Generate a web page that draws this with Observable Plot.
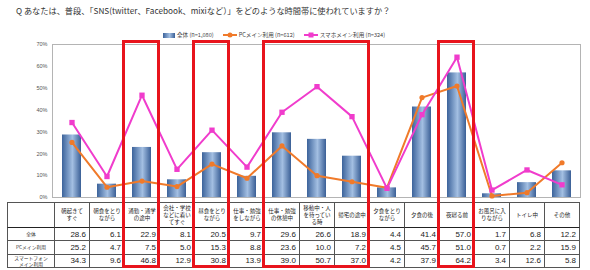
<!DOCTYPE html>
<html><head><meta charset="utf-8">
<script src="https://cdn.jsdelivr.net/npm/d3@7"></script>
<script src="https://cdn.jsdelivr.net/npm/@observablehq/plot@0.6"></script>
<style>
body{margin:0;background:#fff;}
#wrap{position:relative;width:590px;height:270px;overflow:hidden;background:#fff;font-family:"Noto Sans CJK JP","Noto Sans",sans-serif;}
#title{position:absolute;left:16px;top:4px;font-size:8.2px;color:#333;white-space:nowrap;}
#legend{position:absolute;left:163px;top:31px;font-size:5.6px;color:#444;display:flex;gap:9px;align-items:center;white-space:nowrap;}
#legend span.it{display:flex;align-items:center;gap:2px;}
#chart{position:absolute;left:0;top:40px;}
.cell{position:absolute;box-sizing:border-box;display:flex;align-items:center;}
.hdr{justify-content:center;text-align:center;font-size:5.5px;line-height:7px;color:#222;}
.num{justify-content:flex-end;padding-right:3px;font-family:"Liberation Sans",Arial,sans-serif;font-size:8px;color:#222;}
.lab{justify-content:center;text-align:center;font-size:4.8px;line-height:6px;color:#333;}
.hl{position:absolute;box-sizing:border-box;border:3px solid #e8141c;pointer-events:none;}
</style></head>
<body><div id="wrap">
<div id="title">Q あなたは、普段、「SNS(twitter、Facebook、mixiなど）」をどのような時間帯に使われていますか？</div>
<div id="legend"></div>
<div id="chart"></div>
</div>
<script>
const categories = ["朝起きてすぐ","朝食をとりながら","通勤・通学の途中","会社・学校などに着いてすぐ","昼食をとりながら","仕事・勉強をしながら","仕事・勉強の休憩中","移動中・人を待っている時","帰宅の途中","夕食をとりながら","夕食の後","夜寝る前","お風呂に入りながら","トイレ中","その他"];
const headerLabels = ["朝起きて<br>すぐ","朝食をとり<br>ながら","通勤・通学<br>の途中","会社・学校<br>などに着い<br>てすぐ","昼食をとり<br>ながら","仕事・勉強<br>をしながら","仕事・勉強<br>の休憩中","移動中・人<br>を待ってい<br>る時","帰宅の途中","夕食をとり<br>ながら","夕食の後","夜寝る前","お風呂に入<br>りながら","トイレ中","その他"];
const allValues = [28.6,6.1,22.9,8.1,20.5,9.7,29.6,26.6,18.9,4.4,41.4,57.0,1.7,6.8,12.2];
const pcValues  = [25.2,4.7,7.5,5.0,15.3,8.8,23.6,10.0,7.2,4.5,45.7,51.0,0.7,2.2,15.9];
const spValues  = [34.3,9.6,46.8,12.9,30.8,13.9,39.0,50.7,37.0,4.2,37.9,64.2,3.4,12.6,5.8];
const seriesNames = ["全体 (n=1,080)","PCメイン利用 (n=612)","スマホメイン利用 (n=324)"];
const rowLabels = ["全体","PCメイン利用","スマートフォン<br>メイン利用"];
const highlightGroups = [["通勤・通学の途中"],["昼食をとりながら"],["仕事・勉強の休憩中","移動中・人を待っている時","帰宅の途中"],["夜寝る前"]];

const ORANGE = "#f07a2a", MAG = "#f03ccc";
const rows = categories.map((c,i)=>({cat:c, all:allValues[i], pc:pcValues[i], sp:spValues[i]}));

const plot = Plot.plot({
  width: 590, height: 160,
  marginTop: 4, marginBottom: 3, marginLeft: 52, marginRight: 10,
  x: {domain: categories, paddingInner: 0.46, paddingOuter: 0.23, axis: null},
  y: {domain: [0,70], ticks: 7, tickFormat: d => d + "%", tickSize: 0, tickPadding: 5, label: null},
  style: {fontSize: "5.5px", color: "#555", fontFamily: "Liberation Sans, Arial, sans-serif", background: "transparent"},
  marks: [
    Plot.frame({stroke: "#b4b4b4"}),
    Plot.barY(rows, {x: "cat", y: "all", fill: "url(#barGrad)"}),
    Plot.line(rows, {x: "cat", y: "pc", stroke: ORANGE, strokeWidth: 2}),
    Plot.dot(rows, {x: "cat", y: "pc", fill: ORANGE, r: 2.6}),
    Plot.line(rows, {x: "cat", y: "sp", stroke: MAG, strokeWidth: 2}),
    Plot.dot(rows, {x: "cat", y: "sp", fill: MAG, symbol: "square", r: 3})
  ]
});
const defs = d3.select(plot).insert("defs", ":first-child");
const g = defs.append("linearGradient").attr("id","barGrad").attr("x1","0").attr("x2","1").attr("y1","0").attr("y2","0");
g.append("stop").attr("offset","0").attr("stop-color","#3c639b");
g.append("stop").attr("offset","0.55").attr("stop-color","#a3bfe2");
g.append("stop").attr("offset","1").attr("stop-color","#3a5f96");
document.getElementById("chart").appendChild(plot);

// legend
const lg = document.getElementById("legend");
lg.innerHTML =
 `<span class="it"><svg width="12" height="5"><defs><linearGradient id="lgG" x1="0" x2="1"><stop offset="0" stop-color="#3c639b"/><stop offset="0.55" stop-color="#a3bfe2"/><stop offset="1" stop-color="#3a5f96"/></linearGradient></defs><rect width="12" height="5" fill="url(#lgG)"/></svg>${seriesNames[0]}</span>` +
 `<span class="it"><svg width="14" height="6"><line x1="0" x2="14" y1="3" y2="3" stroke="${ORANGE}" stroke-width="2"/><circle cx="7" cy="3" r="2.5" fill="${ORANGE}"/></svg>${seriesNames[1]}</span>` +
 `<span class="it"><svg width="14" height="6"><line x1="0" x2="14" y1="3" y2="3" stroke="${MAG}" stroke-width="2"/><rect x="4.5" y="0.5" width="5" height="5" fill="${MAG}"/></svg>${seriesNames[2]}</span>`;

// table from the x scale
const xs = plot.scale("x");
const bw = xs.bandwidth;
const step = xs.step || (xs.range[1]-xs.range[0])/categories.length;
const colStart = c => xs.apply(c) - (step - bw)/2;
const wrap = document.getElementById("wrap");
const tableLeft = 7;
const rowTops = [202, 227, 240, 253.5, 267];
const firstX = colStart(categories[0]);
function addCell(cls, x, y, w, h, html, borders){
  const d = document.createElement("div");
  d.className = "cell " + cls;
  Object.assign(d.style, {left: x+"px", top: y+"px", width: w+"px", height: h+"px"});
  d.style.borderLeft = "1px solid #555";
  d.style.borderTop = borders.top || "1px solid #555";
  if (borders.right) d.style.borderRight = borders.right;
  if (borders.bottom) d.style.borderBottom = borders.bottom;
  d.innerHTML = html;
  wrap.appendChild(d);
}
const series = [allValues, pcValues, spValues];
for (let r = 0; r < 4; r++) {
  const y = rowTops[r], h = rowTops[r+1]-rowTops[r];
  const top = r === 1 ? "1.5px solid #222" : "1px solid #555";
  const bottom = r === 3 ? "1px solid #555" : null;
  addCell(r===0 ? "hdr" : "lab", tableLeft, y, firstX - tableLeft, h + (bottom?1:0), r===0 ? "" : rowLabels[r-1], {top, bottom});
  categories.forEach((c,i) => {
    const x = colStart(c);
    const last = i === categories.length-1;
    addCell(r===0 ? "hdr" : "num", x, y, step + (last?1:0), h + (bottom?1:0),
      r===0 ? headerLabels[i] : series[r-1][i].toFixed(1),
      {top, bottom, right: last ? "1px solid #555" : null});
  });
}
// highlight boxes
highlightGroups.forEach(grp => {
  const x0 = colStart(grp[0]) - 2;
  const x1 = colStart(grp[grp.length-1]) + step + 1;
  const d = document.createElement("div");
  d.className = "hl";
  Object.assign(d.style, {left: x0+"px", top: "40px", width: (x1-x0)+"px", height: "228px"});
  wrap.appendChild(d);
});
</script>
</body></html>
